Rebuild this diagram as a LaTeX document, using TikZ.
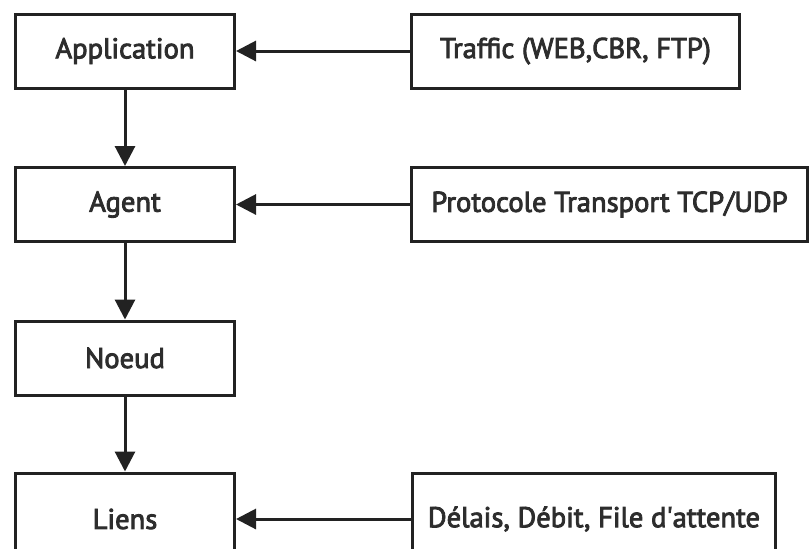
\documentclass[tikz,border=0pt]{standalone}
\usepackage{fontspec}
\setmainfont[FakeBold=3]{PT Sans}
\usepackage{tikz}
\usetikzlibrary{arrows.meta, positioning}
\definecolor{linecolor}{RGB}{34,34,34}
\definecolor{textcolor}{RGB}{45,45,45}

\begin{document}
\begin{tikzpicture}[
    x=0.5pt, y=-0.5pt,
    box/.style={draw=linecolor, line width=1.5pt, minimum width=109.5pt, minimum height=37pt, font=\fontsize{14.3}{16}\selectfont, text=textcolor, align=center},
    arrow/.style={-{Triangle[length=10pt, width=10pt]}, line width=1.5pt, draw=linecolor}
]
    \useasboundingbox (0,0) rectangle (810,548);
    \clip (0,0) rectangle (810,548);

    % left column
    \node[box] (app) at (125,51) {Application};
    \node[box] (agent) at (125,204.5) {Agent};
    \node[box] (noeud) at (125,358) {Noeud};
    \node[box, minimum height=46pt] (liens) at (125,519) {Liens};

    % right column
    \node[box, minimum width=164pt] (traffic) at (575.5,51) {Traffic (WEB,CBR, FTP)};
    \node[box, minimum width=198pt] (proto) at (609.5,204.5) {Protocole Transport TCP/UDP};
    \node[box, minimum width=181.5pt, minimum height=46pt] (delais) at (594,519) {Délais, Débit, File d\textquotesingle attente};

    \draw[arrow] (app) -- (agent);
    \draw[arrow] (agent) -- (noeud);
    \draw[arrow] (noeud) -- (liens);

    \draw[arrow] (traffic) -- (app);
    \draw[arrow] (proto) -- (agent);
    \draw[arrow] (delais) -- (liens);
\end{tikzpicture}
\end{document}
